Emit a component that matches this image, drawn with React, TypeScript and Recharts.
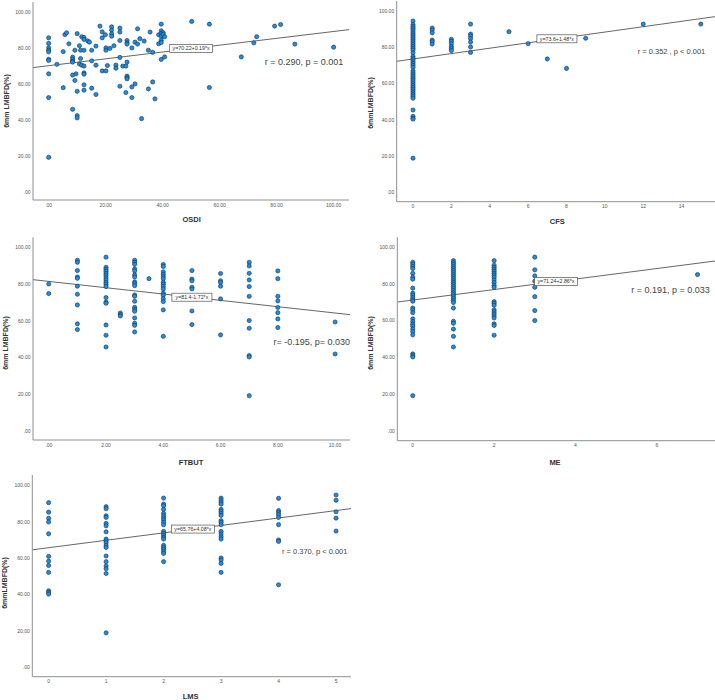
import React from 'react';
import { ScatterChart, Scatter, XAxis, YAxis, ReferenceLine, ReferenceDot } from 'recharts';

type Pt = [number, number];

// shared y axis ticks
const yTicks = [0, 20, 40, 60, 80, 100];

const osdiTicks = [0, 20, 40, 60, 80, 100];
const cfsTicks = [0, 2, 4, 6, 8, 10, 12, 14];
const ftbutTicks = [0, 2, 4, 6, 8, 10];
const meTicks = [0, 2, 4, 6];
const lmsTicks = [0, 1, 2, 3, 4, 5];

// [x, 6mm LMBFD %]
const osdiPoints: Pt[] = [
  [0, 85.7], [0, 82.6], [0, 80.1], [0, 78.8], [0, 77.9], [0, 73.8], [0, 73.1], [0, 65.7], [0, 52.5], [0, 19.3],
  [2.9, 71], [5.1, 78], [5.1, 58], [5.7, 87.5], [6.3, 88.5], [7.1, 82.4],
  [8.4, 75], [8.4, 73.8], [8.4, 72.7], [8.4, 72.2], [8.4, 65], [8.4, 46],
  [9.2, 78.8], [9.2, 62], [9.6, 65.7],
  [10, 88], [10, 56], [10, 42.5], [10, 41.2],
  [10.8, 81.3], [10.8, 71.2], [11.2, 78.8], [11.2, 74.2], [11.6, 86.3], [11.6, 70.5],
  [12.4, 85.9], [12.4, 84.8], [12.4, 78.8], [12.4, 70], [12.4, 66.2], [12.4, 65.5], [12.4, 59.6], [12.4, 56.6],
  [13.7, 84], [14.3, 83.3], [15.1, 78.8], [15.1, 72.9], [15.1, 57.7],
  [16.6, 81.1], [16.6, 70.5], [16.6, 54.2],
  [18, 92.2], [18.8, 89], [18.8, 85.7], [18.8, 67.3], [19.9, 87.4], [20.1, 80.1], [20.1, 78.8], [20.1, 67.3],
  [20.6, 70.3], [21.5, 79.8],
  [22.1, 91.8], [22.1, 90], [22.1, 87.9], [22.1, 86.6], [22.9, 81.3], [23.6, 70.5], [23.6, 68.8],
  [25, 91.1], [25, 88.9], [25, 84.2], [25, 74.8], [25, 58.8], [26, 70], [27.1, 70], [27.1, 55.3],
  [27.5, 84.2], [27.5, 82.9], [27.5, 82.2], [27.5, 72.2], [27.5, 64.4], [27.5, 63.6], [27.5, 62.9],
  [29.2, 80.1], [29.2, 58.4], [29.2, 52.5], [30.3, 83.3], [30.3, 60.1], [31.2, 90.7], [31.2, 82.2],
  [32, 85.2], [32.6, 40.8], [33.5, 83.9],
  [35, 78.8], [35, 57.3], [35.6, 88.9], [36.5, 77.6], [36.5, 61.2], [37.3, 51.8], [38.6, 87.4], [38.6, 82.4],
  [39.5, 93.3], [39.5, 89.6], [39.5, 88.1], [39.5, 86.6], [39.5, 84.4], [39.5, 83.1], [39.5, 73.7],
  [40.2, 88.5], [40.2, 87.6], [40.7, 86.3], [40.7, 75.1],
  [50.2, 94.8], [56.4, 93.3], [56.4, 58.1], [67.6, 75.1], [72, 82.9], [73, 86.3],
  [79.3, 92.2], [81.4, 93.1], [86.4, 82.2], [100, 80.5],
];

const cfsZero = [
  94.5, 92.5, 91.5, 90.5, 89.5, 88.5, 87.5, 86.5, 85.5, 84.5, 83.5, 82.5, 81.5, 80.5, 79.5, 78.5, 77,
  75, 74, 73, 72, 71, 70, 69, 67, 66, 65, 64, 63, 62, 61, 60, 59, 58, 57, 56, 55, 54, 53, 52,
  45.5, 42, 41, 40.5, 19,
];
const cfsPoints: Pt[] = [
  ...cfsZero.map((y): Pt => [0, y]),
  [1, 90.6], [1, 89.5], [1, 88], [1, 84], [1, 83.1], [1, 81.8],
  [2, 84.4], [2, 83.3], [2, 82], [2, 80.4], [2, 79.3], [2, 78.2],
  [3, 92.8], [3, 87.3], [3, 86.2], [3, 84.8], [3, 82.9], [3, 80.2], [3, 77.2],
  [5, 88.6], [6, 82], [7, 73.6], [8, 68.4], [9, 85], [12, 92.8], [15, 92.8],
];

const ftbutPoints: Pt[] = [
  [0, 80], [0, 74.8],
  [1, 92.9], [1, 91.8], [1, 87.3], [1, 83.8], [1, 83.1], [1, 78.8], [1, 74.4], [1, 68.6], [1, 58.3], [1, 55.2],
  [2, 94.6], [2, 89.1], [2, 88], [2, 86.9], [2, 85.7], [2, 84.6], [2, 83.3], [2, 82.2], [2, 80.9], [2, 79.9],
  [2, 78.6], [2, 72.6], [2, 70.1], [2, 69.5], [2, 57.7], [2, 52.1], [2, 45.7],
  [2.5, 64.2], [2.5, 63.3], [2.5, 62.6],
  [3, 92.9], [3, 91.8], [3, 90.7], [3, 88.2], [3, 87.1], [3, 84.9], [3, 83.8], [3, 81.1], [3, 80.2], [3, 79.1],
  [3, 74], [3, 73.3], [3, 70.6], [3, 67.3], [3, 66.2], [3, 65.2], [3, 61.5], [3, 58.6], [3, 57.5], [3, 53.9],
  [3.5, 82.9],
  [4, 90.6], [4, 89.5], [4, 86.6], [4, 85.3], [4, 84], [4, 82.9], [4, 80.9], [4, 79.9], [4, 78.6], [4, 77.3],
  [4, 75], [4, 73.9], [4, 71.9], [4, 70.4], [4, 65.9], [4, 51.5],
  [5, 87.3], [5, 82.6], [5, 81.7], [5, 78.2], [5, 77.3], [5, 65.3], [5, 57.9],
  [6, 85.7], [6, 81.7], [6, 80.8], [6, 78.8], [6, 71.9], [6, 52.3],
  [7, 91.8], [7, 89.8], [7, 85.8], [7, 82.2], [7, 78.6], [7, 73.3], [7, 60.1], [7, 55.9], [7, 41], [7, 40.3], [7, 19.2],
  [8, 87.1], [8, 82.9], [8, 73.3], [8, 70.8], [8, 67.2], [8, 64.4], [8, 61], [8, 56.3],
  [10, 59.3], [10, 41.9],
];

const mePoints: Pt[] = [
  [0, 91.8], [0, 90.7], [0, 89.5], [0, 88.4], [0, 85.8], [0, 83.7], [0, 82.6], [0, 77.7], [0, 75], [0, 73.9],
  [0, 72.6], [0, 71.5], [0, 70.6], [0, 66.9], [0, 65.9], [0, 64.4], [0, 61], [0, 59.5], [0, 58.1], [0, 57],
  [0, 55.5], [0, 54.1], [0, 52.3], [0, 41.9], [0, 41], [0, 40.3], [0, 19.2],
  [1, 92.7], [1, 91.6], [1, 90.6], [1, 89.5], [1, 88.4], [1, 87.3], [1, 86.2], [1, 85.1], [1, 84], [1, 82.9],
  [1, 81.8], [1, 80.8], [1, 79.7], [1, 78.6], [1, 77.5], [1, 76.4], [1, 75.3], [1, 74.2], [1, 73.1], [1, 72.1],
  [1, 71], [1, 69.9], [1, 66.9], [1, 59.7], [1, 58.6], [1, 55.4], [1, 51.5], [1, 45.7],
  [2, 92.7], [2, 90.2], [2, 89.1], [2, 88], [2, 86.9], [2, 85.8], [2, 84.8], [2, 83.7], [2, 82.2], [2, 80.8],
  [2, 79.3], [2, 78.2], [2, 70.4], [2, 69.5], [2, 68.4], [2, 65.9], [2, 64.8], [2, 63.7], [2, 62.6], [2, 61.5],
  [2, 58.3], [2, 57.4], [2, 52.1],
  [3, 94.6], [3, 87.7], [3, 84.4], [3, 81.5], [3, 78.2], [3, 73.1], [3, 65.5], [3, 60.1],
  [7, 85.1],
];

const lmsPoints: Pt[] = [
  [0, 90.5], [0, 85.3], [0, 81.9], [0, 79.9], [0, 73.4], [0, 61], [0, 58.4], [0, 56], [0, 52.2], [0, 42.1], [0, 41.2], [0, 40.3],
  [1, 88.3], [1, 87.2], [1, 83.3], [1, 82.4], [1, 79.1], [1, 77.8], [1, 74.5], [1, 70.5], [1, 69.6], [1, 68.5],
  [1, 67], [1, 65.9], [1, 61.2], [1, 58.1], [1, 55.7], [1, 54.2], [1, 51.6], [1, 19],
  [2, 93], [2, 89.7], [2, 88.8], [2, 86.8], [2, 84.6], [2, 83.3], [2, 82.1], [2, 81], [2, 79.7], [2, 78.4],
  [2, 74.7], [2, 73.6], [2, 72.5], [2, 71.4], [2, 70.5], [2, 67], [2, 65.9], [2, 64.8], [2, 63.7], [2, 62.6], [2, 58.1],
  [3, 93], [3, 91.9], [3, 90.8], [3, 89.7], [3, 86.8], [3, 85.7], [3, 84.6], [3, 83.5], [3, 80.6], [3, 79.7],
  [3, 78.4], [3, 74.7], [3, 73.3], [3, 71.8], [3, 70.5], [3, 60.1], [3, 59], [3, 57.1], [3, 52.2],
  [4, 92.9], [4, 86.1], [4, 85], [4, 83.9], [4, 82.4], [4, 78.4], [4, 70], [4, 69.2], [4, 45.4],
  [5, 94.7], [5, 91.8], [5, 85.5], [5, 82], [5, 74.9],
];

// fitted lines: [intercept, slope]
const osdiFit = [70.22, 0.19];
const cfsFit = [73.6, 1.48];
const ftbutFit = [81.4, -1.72];
const meFit = [71.24, 2.86];
const lmsFit = [65.76, 4.08];

const FONT = 'Arial, "Liberation Sans", Helvetica, sans-serif';
const DOT = '#1f8de0';
const DOT_EDGE = '#17304a';
const AXIS = '#8f8f8f';

const fmt2 = (v: number) => (v === 0 ? '.00' : v.toFixed(2));
const fmtInt = (v: number) => String(v);

const EqBox = ({ cx, cy, text }: { cx: number; cy: number; text: string }) => {
  const w = text.length * 2.85 + 3;
  const h = 8;
  return (
    <g>
      <rect x={cx - w / 2} y={cy - h / 2} width={w} height={h} fill="#fff" stroke="#555" strokeWidth={0.7} />
      <text x={cx} y={cy + 1.8} textAnchor="middle" fontSize={5.3} fill="#333" fontFamily={FONT}>
        {text}
      </text>
    </g>
  );
};

interface PanelCfg {
  left: number;
  top: number;
  width: number;
  height: number;
  mTop: number;
  mRight: number;
  yAxisW: number;
  xAxisH: number;
  xDomain: [number, number];
  yDomain: [number, number];
  xTicks: number[];
  xFmt: (v: number) => string;
  points: Pt[];
  fit: number[];
  eq: string;
  eqX: number;
  stat: string;
  statPos: [number, number];
  statSize: number;
  xLabel: string;
  xLabelPos: [number, number];
  yLabel: string;
  yLabelPos: [number, number];
}

const panels: PanelCfg[] = [
  {
    left: 0, top: 0, width: 355, height: 230, mTop: 2, mRight: 6, yAxisW: 33, xAxisH: 30,
    xDomain: [-5.5, 105.4], yDomain: [-4.4, 105.6], xTicks: osdiTicks, xFmt: fmt2,
    points: osdiPoints, fit: osdiFit, eq: 'y=70.22+0.19*x', eqX: 50,
    stat: 'r = 0.290, p = 0.001', statPos: [304, 61.7], statSize: 9,
    xLabel: 'OSDI', xLabelPos: [191.7, 220], yLabel: '6mm LMBFD(%)', yLabelPos: [6, 101],
  },
  {
    left: 355, top: 0, width: 360, height: 230, mTop: 1, mRight: 0, yAxisW: 41.7, xAxisH: 28.3,
    xDomain: [-0.85, 15.74], yDomain: [-4.95, 105.5], xTicks: cfsTicks, xFmt: fmtInt,
    points: cfsPoints, fit: cfsFit, eq: 'y=73.6+1.48*x', eqX: 7.5,
    stat: 'r = 0.352 , p < 0.001', statPos: [671.5, 52.3], statSize: 7.5,
    xLabel: 'CFS', xLabelPos: [557.3, 221.7], yLabel: '6mmLMBFD(%)', yLabelPos: [370, 103],
  },
  {
    left: 0, top: 230, width: 355, height: 240, mTop: 7.3, mRight: 5, yAxisW: 33, xAxisH: 30,
    xDomain: [-0.55, 10.52], yDomain: [-4.9, 105.4], xTicks: ftbutTicks, xFmt: fmt2,
    points: ftbutPoints, fit: ftbutFit, eq: 'y=81.4-1.72*x', eqX: 5,
    stat: 'r= -0.195, p= 0.030', statPos: [311.7, 341.7], statSize: 9,
    xLabel: 'FTBUT', xLabelPos: [191, 463], yLabel: '6mm LMBFD(%)', yLabelPos: [5, 343],
  },
  {
    left: 355, top: 230, width: 360, height: 240, mTop: 7.3, mRight: 0, yAxisW: 42.3, xAxisH: 29.3,
    xDomain: [-0.38, 7.43], yDomain: [-5.3, 105.4], xTicks: meTicks, xFmt: fmtInt,
    points: mePoints, fit: meFit, eq: 'y=71.24+2.86*x', eqX: 3.52,
    stat: 'r = 0.191, p = 0.033', statPos: [670.5, 290], statSize: 9,
    xLabel: 'ME', xLabelPos: [555, 463], yLabel: '6mm LMBFD(%)', yLabelPos: [370, 343],
  },
  {
    left: 0, top: 460, width: 355, height: 240, mTop: 15, mRight: 4, yAxisW: 32.3, xAxisH: 23.3,
    xDomain: [-0.284, 5.26], yDomain: [-5.1, 105.7], xTicks: lmsTicks, xFmt: fmtInt,
    points: lmsPoints, fit: lmsFit, eq: 'y=65.76+4.08*x', eqX: 2.51,
    stat: 'r = 0.370, p < 0.001', statPos: [314.7, 551.7], statSize: 7.5,
    xLabel: 'LMS', xLabelPos: [190.7, 696.7], yLabel: '6mmLMBFD(%)', yLabelPos: [4, 583],
  },
];

const Panel = ({ cfg }: { cfg: PanelCfg }) => {
  const data = cfg.points.map(([x, y]) => ({ x, y }));
  const [a, b] = cfg.fit;
  const [x0, x1] = cfg.xDomain;
  const tickStyle = { fontSize: 5, fill: '#555', fontFamily: FONT };
  const center = (x: number, y: number): React.CSSProperties => ({
    position: 'absolute',
    left: x - cfg.left,
    top: y - cfg.top,
    transform: 'translate(-50%, -50%)',
    whiteSpace: 'nowrap',
    fontFamily: FONT,
    lineHeight: 1,
  });

  return (
    <div style={{ position: 'absolute', left: cfg.left, top: cfg.top, width: cfg.width, height: cfg.height }}>
      <ScatterChart
        width={cfg.width}
        height={cfg.height}
        margin={{ top: cfg.mTop, right: cfg.mRight, left: 0, bottom: 0 }}
      >
        <XAxis
          type="number"
          dataKey="x"
          domain={cfg.xDomain}
          allowDataOverflow
          ticks={cfg.xTicks}
          interval={0}
          tickFormatter={cfg.xFmt}
          height={cfg.xAxisH}
          tickLine={false}
          tickSize={0}
          tickMargin={3}
          axisLine={{ stroke: AXIS, strokeWidth: 1 }}
          tick={tickStyle}
        />
        <YAxis
          type="number"
          dataKey="y"
          domain={cfg.yDomain}
          allowDataOverflow
          ticks={yTicks}
          interval={0}
          tickFormatter={fmt2}
          width={cfg.yAxisW}
          tickLine={false}
          tickSize={0}
          tickMargin={2.5}
          axisLine={{ stroke: AXIS, strokeWidth: 1 }}
          tick={tickStyle}
        />
        <ReferenceLine
          segment={[{ x: x0, y: a + b * x0 }, { x: x1, y: a + b * x1 }]}
          stroke="#555"
          strokeWidth={0.9}
          ifOverflow="visible"
        />
        <Scatter
          data={data}
          isAnimationActive={false}
          shape={(p: any) => (
            <circle cx={p.cx} cy={p.cy} r={2.1} fill={DOT} stroke={DOT_EDGE} strokeWidth={0.6} />
          )}
        />
        <ReferenceDot
          x={cfg.eqX}
          y={a + b * cfg.eqX}
          ifOverflow="visible"
          shape={(p: any) => <EqBox cx={p.cx} cy={p.cy} text={cfg.eq} />}
        />
      </ScatterChart>
      <div style={{ ...center(cfg.statPos[0], cfg.statPos[1]), fontSize: cfg.statSize, color: '#444' }}>
        {cfg.stat}
      </div>
      <div style={{ ...center(cfg.xLabelPos[0], cfg.xLabelPos[1]), fontSize: 7.5, fontWeight: 'bold', color: '#333' }}>
        {cfg.xLabel}
      </div>
      <div
        style={{
          ...center(cfg.yLabelPos[0], cfg.yLabelPos[1]),
          transform: 'translate(-50%, -50%) rotate(-90deg)',
          fontSize: 7,
          fontWeight: 'bold',
          color: '#333',
        }}
      >
        {cfg.yLabel}
      </div>
    </div>
  );
};

export default function App() {
  return (
    <div style={{ position: 'absolute', left: 0, top: 0, width: 715, height: 700, background: '#fff', overflow: 'hidden' }}>
      {panels.map((p, i) => (
        <Panel key={i} cfg={p} />
      ))}
    </div>
  );
}
